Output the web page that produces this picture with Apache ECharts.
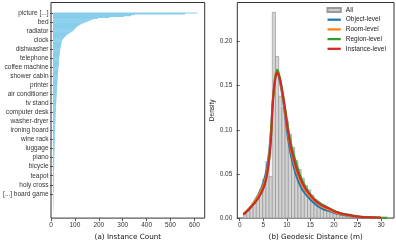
<!DOCTYPE html>
<html><head><meta charset="utf-8">
<script src="https://cdn.jsdelivr.net/npm/echarts@6/dist/echarts.min.js"></script>
<style>html,body{margin:0;padding:0;background:#fff}#c{width:396px;height:246px}</style>
</head><body><div id="c"></div>
<script>
// ---------- Data ----------
const labeledCategories = ['picture [...]', 'bed', 'radiator', 'clock', 'dishwasher', 'telephone',
  'coffee machine', 'shower cabin', 'printer', 'air conditioner', 'tv stand', 'computer desk',
  'washer-dryer', 'ironing board', 'wine rack', 'luggage', 'piano', 'bicycle', 'teapot',
  'holy cross', '[...] board game'];
const labelEvery = 10;
const instanceCounts = [
  612,560,345,330,300,240,190,170,160,150,
  140,132,122,115,108,102,98,94,91,88,
  84,78,72,66,60,55,52,48,45,42,
  39,38,37,36,35,34,33,33,32,31,
  31,30,30,29,29,28,28,27,27,26,
  26,26,25,25,25,24,24,24,24,23,
  23,23,22,22,22,21,21,21,20,20,
  20,20,19,19,19,19,18,18,18,18,
  18,17,17,17,17,16,16,16,16,15,
  15,15,15,15,14,14,14,14,14,13,
  13,13,13,13,12,12,12,12,12,12,
  11,11,11,11,11,11,10,10,10,10,
  10,10,10,9,9,9,9,9,9,9,
  9,9,8,8,8,8,8,8,8,8,
  7,7,7,7,7,7,7,7,7,6,
  6,6,6,6,6,6,6,6,6,5,
  5,5,5,5,5,5,5,5,5,5,
  5,5,5,4,4,4,4,4,4,4,
  4,4,4,4,4,4,4,3,3,3,
  3,3,3,3,3,3,3,3,3,2,
  2,2,2,2,2,2,2,2,2,2,
  2,2,1,1,1,1,1,1,1,1,1];
const countTicks = [0,100,200,300,400,500,600];

const histEdges = [0.80,1.48,2.16,2.84,3.52,4.20,4.88,5.56,6.24,6.92,7.60,8.28,8.96,9.64,10.32,
  11.00,11.68,12.36,13.04,13.72,14.40,15.08,15.76,16.44,17.12,17.80,18.48,19.16,19.84,20.52,
  21.20,21.88,22.56,23.24,23.92,24.60,25.28,25.96,26.64,27.32,28.00,28.68,29.36,30.04,30.72,31.40];
const histDensity = [0.004,0.008,0.012,0.017,0.024,0.032,0.044,0.064,0.047,0.233,0.183,0.138,
  0.125,0.110,0.095,0.080,0.065,0.055,0.045,0.037,0.032,0.026,0.021,0.018,0.014,0.012,0.010,
  0.008,0.006,0.005,0.004,0.003,0.003,0.002,0.002,0.002,0.001,0.001,0.001,0.001,0.001,
  0.0005,0.0005,0.0005,0.0005];
const distTicks = [0,5,10,15,20,25,30];
const densityTicks = [0,0.05,0.10,0.15,0.20];

const kdeObject = [[0.8,0.004],[2,0.011],[3,0.018],[4,0.027],[5,0.040],[5.7,0.055],[6.3,0.078],
  [6.7,0.105],[7.0,0.132],[7.5,0.158],[7.9,0.166],[8.4,0.158],[9.0,0.140],[9.5,0.122],[10,0.100],
  [10.5,0.082],[11,0.068],[12,0.048],[13,0.035],[14,0.027],[15,0.021],[16,0.016],[17,0.012],
  [18,0.0095],[19,0.008],[20,0.006],[21,0.0045],[22,0.0035],[23,0.0027],[24,0.002],[25,0.0015],
  [26,0.001],[27,0.0008],[28,0.0006],[29,0.0005]];
const kdeRoom = [[0.8,0.005],[2,0.011],[3,0.018],[4,0.026],[5,0.037],[5.7,0.050],[6.3,0.073],
  [6.7,0.102],[7.0,0.132],[7.5,0.160],[7.9,0.168],[8.4,0.160],[9.0,0.143],[9.5,0.125],[10,0.105],
  [10.5,0.088],[11,0.074],[12,0.054],[13,0.040],[14,0.031],[15,0.024],[16,0.019],[17,0.015],
  [18,0.0115],[19,0.0095],[20,0.007],[21,0.005],[22,0.004],[23,0.003],[24,0.0022],[25,0.0016],
  [26,0.0012],[27,0.0009],[28,0.0007],[29,0.0005],[30,0.0004]];
const kdeRegion = [[0.8,0.004],[2,0.010],[3,0.016],[4,0.023],[5,0.034],[5.7,0.047],[6.3,0.068],
  [6.7,0.096],[7.0,0.128],[7.5,0.157],[8.0,0.168],[8.5,0.160],[9.0,0.146],[9.5,0.130],[10,0.112],
  [10.5,0.095],[11,0.082],[12,0.062],[13,0.046],[14,0.035],[15,0.027],[16,0.021],[17,0.017],
  [18,0.014],[19,0.011],[20,0.0085],[21,0.0065],[22,0.005],[23,0.004],[24,0.003],[25,0.0022],
  [26,0.0016],[27,0.0012],[28,0.001],[29,0.0008],[30,0.0006],[31.3,0.0004]];
const kdeInstance = [[0.8,0.004],[2,0.010],[3,0.016],[4,0.023],[5,0.033],[5.7,0.046],[6.3,0.068],
  [6.7,0.095],[7.0,0.128],[7.5,0.155],[8.0,0.165],[8.5,0.158],[9.0,0.145],[9.5,0.128],[10,0.108],
  [10.5,0.090],[11,0.077],[12,0.057],[13,0.043],[14,0.033],[15,0.026],[16,0.020],[17,0.016],
  [18,0.013],[19,0.011],[20,0.008],[21,0.006],[22,0.0045],[23,0.0035],[24,0.0025],[25,0.0018],
  [26,0.0013],[27,0.001],[28,0.0008],[29,0.0006],[30,0.0005]];

const seriesNames = ['Object-level','Room-level','Region-level','Instance-level'];
const seriesColors = ['#1f77b4','#ff7f0e','#2ca02c','#d62728'];
const kdeData = [kdeObject, kdeRoom, kdeRegion, kdeInstance];

// ---------- Chart ----------
const categories = instanceCounts.map((_, i) => (i % labelEvery === 0 && labeledCategories[i / labelEvery]) ? labeledCategories[i / labelEvery] : '');
const tickFont = {fontFamily: 'Liberation Sans', fontSize: 6.5, color: '#333'};
const titleFont = {fontFamily: 'DejaVu Sans', fontSize: 7.2, color: '#111'};
const tickStyle = {show: true, length: 3, lineStyle: {color: '#333', width: 0.8}};

const chart = echarts.init(document.getElementById('c'), null, {renderer: 'canvas'});
chart.setOption({
  animation: false,
  backgroundColor: '#fff',
  grid: [
    {left: 51, top: 2.5, width: 153.7, height: 219.8, show: true, borderColor: '#333', borderWidth: 1, backgroundColor: 'transparent'},
    {left: 51, top: 12.4, width: 153.7, height: 200},
    {left: 237.3, top: 2.5, width: 156.7, height: 219.8, show: true, borderColor: '#333', borderWidth: 1, backgroundColor: 'transparent'}
  ],
  xAxis: [
    {gridIndex: 0, type: 'value', min: 0, max: 643, splitLine: {show: false},
     axisLine: {show: false}, axisTick: Object.assign({customValues: countTicks}, tickStyle),
     axisLabel: Object.assign({customValues: countTicks, margin: 4}, tickFont),
     name: '(a) Instance Count', nameLocation: 'middle', nameGap: 14.5, nameTextStyle: titleFont},
    {gridIndex: 1, type: 'value', min: 0, max: 643, show: false},
    {gridIndex: 2, type: 'value', min: -0.51, max: 32.76, splitLine: {show: false},
     axisLine: {show: false}, axisTick: Object.assign({customValues: distTicks}, tickStyle),
     axisLabel: Object.assign({customValues: distTicks, margin: 4}, tickFont),
     name: '(b) Geodesic Distance (m)', nameLocation: 'middle', nameGap: 14.5, nameTextStyle: titleFont}
  ],
  yAxis: [
    {gridIndex: 0, type: 'value', show: false, min: 0, max: 1},
    {gridIndex: 1, type: 'category', inverse: true, data: categories,
     axisLine: {show: false},
     axisTick: Object.assign({alignWithLabel: true, interval: (i, v) => v !== ''}, tickStyle),
     axisLabel: Object.assign({interval: (i, v) => v !== '', margin: 4.5}, tickFont)},
    {gridIndex: 2, type: 'value', min: 0, max: 0.2442, splitLine: {show: false},
     axisLine: {show: false}, axisTick: Object.assign({customValues: densityTicks}, tickStyle),
     axisLabel: Object.assign({customValues: densityTicks, margin: 5, formatter: v => v.toFixed(2)}, tickFont),
     name: 'Density', nameLocation: 'middle', nameRotate: 90, nameGap: 21,
     nameTextStyle: {fontFamily: 'Liberation Sans', fontSize: 6.5, color: '#222'}}
  ],
  legend: {
    left: 326.5, top: 6.5, orient: 'vertical', itemWidth: 13.3, itemHeight: 4, itemGap: 2.7,
    selectedMode: false, padding: 0,
    textStyle: {fontFamily: 'Liberation Sans', fontSize: 6.5, color: '#222', lineHeight: 7},
    data: [{name: 'All', icon: 'rect'}].concat(seriesNames.map(n => ({name: n, icon: 'path://M0,0H13V2.2H0Z'})))
  },
  series: [
    {type: 'bar', xAxisIndex: 1, yAxisIndex: 1, data: instanceCounts, barWidth: 1.3,
     itemStyle: {color: '#87CEEB'}, silent: true},
    {type: 'custom', name: 'All', xAxisIndex: 2, yAxisIndex: 2,
     data: histDensity.map((d, i) => [histEdges[i], histEdges[i + 1], d]),
     encode: {x: [0, 1], y: 2},
     itemStyle: {color: '#cfcfcf', borderColor: '#999', borderWidth: 0.7},
     renderItem: (params, api) => {
       const p0 = api.coord([api.value(0), api.value(2)]);
       const p1 = api.coord([api.value(1), 0]);
       return {type: 'rect', shape: {x: p0[0], y: p0[1], width: p1[0] - p0[0], height: p1[1] - p0[1]},
               style: {fill: 'rgba(205,205,205,0.85)', stroke: '#9a9a9a', lineWidth: 0.7}};
     }}
  ].concat(kdeData.map((d, k) => ({
     type: 'line', name: seriesNames[k], xAxisIndex: 2, yAxisIndex: 2, data: d,
     symbol: 'none', smooth: 0.3, lineStyle: {width: 2, color: seriesColors[k]},
     itemStyle: {color: seriesColors[k]}, z: 3 + k
  })))
});
</script></body></html>
